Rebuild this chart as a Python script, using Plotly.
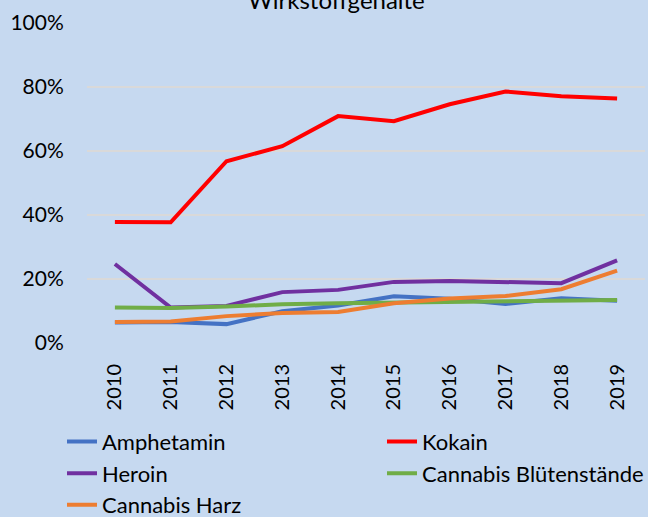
import plotly.graph_objects as go

years = ["2010", "2011", "2012", "2013", "2014", "2015", "2016", "2017", "2018", "2019"]
amphetamin = [0.064, 0.066, 0.059, 0.099, 0.117, 0.146, 0.138, 0.122, 0.140, 0.132]
kokain = [0.378, 0.377, 0.568, 0.615, 0.709, 0.693, 0.746, 0.786, 0.771, 0.764]
heroin = [0.247, 0.111, 0.116, 0.159, 0.166, 0.191, 0.194, 0.192, 0.187, 0.258]
cannabis_blueten = [0.111, 0.109, 0.114, 0.121, 0.124, 0.126, 0.127, 0.129, 0.131, 0.134]
cannabis_harz = [0.066, 0.067, 0.084, 0.094, 0.097, 0.124, 0.139, 0.147, 0.168, 0.226]

series = [
    ("Amphetamin", amphetamin, "#4472C4"),
    ("Kokain", kokain, "#FF0000"),
    ("Heroin", heroin, "#7030A0"),
    ("Cannabis Blütenstände", cannabis_blueten, "#70AD47"),
    ("Cannabis Harz", cannabis_harz, "#ED7D31"),
]

FONT = "Lato"
fig = go.Figure()
for name, vals, col in series:
    fig.add_trace(go.Scatter(x=years, y=vals, name=name, mode="lines",
                             line=dict(color=col, width=4)))

bg = "#C6D9F0"
fig.update_layout(
    width=648, height=517,
    paper_bgcolor=bg, plot_bgcolor=bg,
    margin=dict(l=87, r=3, t=23, b=174, autoexpand=False),
    font=dict(family=FONT, size=21, color="#000000"),
    showlegend=True,
    legend=dict(orientation="h", x=-0.0448, xanchor="left", y=-0.243, yanchor="top",
                entrywidth=275, entrywidthmode="pixels",
                font=dict(family=FONT, size=22), bgcolor="rgba(0,0,0,0)",
                tracegroupgap=0, itemwidth=30),
    annotations=[dict(text="Wirkstoffgehalte", xref="paper", yref="paper",
                      x=(336 - 87) / 558, y=1.022, xanchor="center", yanchor="bottom",
                      showarrow=False, font=dict(family=FONT, size=24))],
)
fig.update_xaxes(type="category", range=[-0.5, 9.5], showgrid=False, zeroline=False,
                 showline=False, tickangle=-90, ticks="outside", ticklen=12,
                 tickcolor="rgba(0,0,0,0)", tickfont=dict(size=20))
fig.update_yaxes(range=[0, 1], tickvals=[0, 0.2, 0.4, 0.6, 0.8, 1.0],
                 ticktext=["0%", "20%", "40%", "60%", "80%", "100%"],
                 showgrid=True, gridcolor="#D9D9D9", gridwidth=1.5, zeroline=False,
                 showline=False, ticks="outside", ticklen=18,
                 tickcolor="rgba(0,0,0,0)", tickfont=dict(size=21))

fig.write_html("out.html", config={"displayModeBar": False},
               post_script="document.body.style.margin='0';document.body.style.overflow='hidden';")
